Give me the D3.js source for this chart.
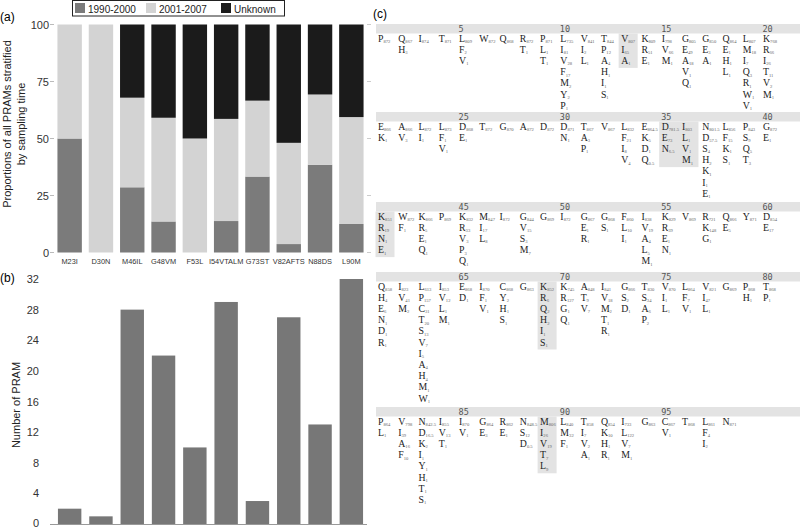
<!DOCTYPE html>
<html>
<head>
<meta charset="utf-8">
<script src="https://cdn.jsdelivr.net/npm/d3@7"></script>
<style>
  body { margin: 0; background: #fff; }
  svg { display: block; }
</style>
</head>
<body>
<div id="fig"></div>
<script>
// PRAM categories shared by panels (a) and (b)
const pramLabels = ["M23I", "D30N", "M46IL", "G48VM", "F53L", "I54VTALM", "G73ST", "V82AFTS", "N88DS", "L90M"];
// (a) proportions (%) by sampling time
const share1990 = [50, 0, 28.6, 13.6, 0, 13.8, 33.3, 3.7, 38.5, 12.5];
const share2001 = [50, 100, 39.3, 45.5, 50, 44.8, 33.3, 44.4, 30.8, 46.9];
const shareUnknown = [0, 0, 32.1, 40.9, 50, 41.4, 33.4, 51.9, 30.7, 40.6];
const periodKeys = ["1990-2000", "2001-2007", "Unknown"];
const periodColors = ["#7b7b7b", "#d3d3d3", "#1b1b1b"];
const propTicks = [0, 25, 50, 75, 100];
// (b) number of PRAM
const pramCounts = [2, 1, 28, 22, 10, 29, 3, 27, 13, 32];
const countTicks = [0, 4, 8, 12, 16, 20, 24, 28, 32];
// (c) residues per protease position: consensus first, then variants (letter + count)
const residues = [
  "P872", "Q867 H3", "I874", "T871", "L809 F2 V1", "W872", "Q868", "R872 T1", "P871 L1 T1", "L735 I81 V28 F17 M2 Y2 P1",
  "V841 I2 L1", "T844 P12 A4 H1 I1 S1", "V807 I65 A1", "K809 R51 E1", "I798 V66 M1", "G805 E49 A18 V1 Q1", "G850 E3 A1", "Q864 E1 H1 L1", "L807 M18 I7 Q3 R1 W1 V1", "K768 R66 I26 T11 V2 M1",
  "E866 K1", "A866 V3", "L872 I1", "L873 F1 V1", "D868 E1", "T872", "G870", "A872", "D872", "D871 N1",
  "T867 A3 P1", "V867", "L832 F21 I8 V4", "E864.5 K5 D1 Q0.5", "D781.5 E73 N6.5", "I803 L1 V1 M1", "N801.5 D57.5 S4 H2 K1 I1 E1", "L856 F15 K1 S1", "P843 S9 Q5 T3", "G872 E1",
  "K851 R19 N1 E1", "W872 F1", "K866 R5 E1 Q1", "P869", "K832 R33 V3 P3 Q1", "M847 I17 L8", "I872", "G844 V15 S3 M7", "G869", "I872",
  "G867 E1 R1", "G868 S1", "F860 L10 I1", "I838 V19 A4 L5 M1", "K829 R39 E1 N1", "V869", "R721 K148 G1", "Q866 E5", "Y871", "D854 E17",
  "Q858 H4 E6 N1 D1 R1", "I823 V41 M2", "L613 P157 C31 T20 S13 V7 I5 A4 H4 M1 W1", "I853 V12 L1 M1", "E868 D1", "I870 F1 V1", "C868 Y2 H1 S1", "G863", "K852 R6 Q2 H2 I1 S1", "K745 R127 G1 Q1",
  "A848 T9 V7", "I841 V18 M2 T1 R1", "G866 S2 D1", "T830 S34 A6 P2", "V870 I1 L1", "L864 F7 V1", "V821 I47 L1", "G869", "P868 H1", "T868 P1",
  "P864 L1", "V798 I39 A16 F10", "N842.5 D16.5 K2 I1 Y1 H1 T1 S1", "I855 V13 T1", "I870 V1", "G864 E3", "R862 E1", "N848.5 S12 D0.5", "M806 I26 V19 T7 L9", "L840 M32 F1",
  "T858 I7 V2 A1", "Q854 K10 H1 R1", "I733 L122 V7 M1", "G863", "C867 V1", "T868", "L861 F4 I2", "N871"
];
const shadedPositions = [13, 35, 36, 41, 69, 89];

const W = 800, H = 530;
const sans = "Liberation Sans, Arial, sans-serif";
const svg = d3.select("#fig").append("svg").attr("width", W).attr("height", H)
  .style("font-family", sans);

// ---------- panel (a) ----------
const x = d3.scaleBand().domain(pramLabels).range([54, 367]).paddingInner(0.22).paddingOuter(0.11);
const yA = d3.scaleLinear().domain([0, 100]).range([252.5, 24.5]);

const rowsA = pramLabels.map((p, i) => ({
  pram: p, "1990-2000": share1990[i], "2001-2007": share2001[i], "Unknown": shareUnknown[i]
}));
const stacked = d3.stack().keys(periodKeys)(rowsA);

const gA = svg.append("g");
gA.selectAll("line.tl").data(propTicks).join("line")
  .attr("x1", 50).attr("x2", 54).attr("y1", d => yA(d)).attr("y2", d => yA(d))
  .attr("stroke", "#bbb");
gA.selectAll("line.tr").data(propTicks).join("line")
  .attr("x1", 367).attr("x2", 371).attr("y1", d => yA(d)).attr("y2", d => yA(d))
  .attr("stroke", "#ccc");
gA.selectAll("g.layer").data(stacked).join("g")
  .attr("fill", (d, i) => periodColors[i])
  .selectAll("rect").data(d => d).join("rect")
  .attr("x", d => x(d.data.pram))
  .attr("width", x.bandwidth())
  .attr("y", d => yA(d[1]))
  .attr("height", d => yA(d[0]) - yA(d[1]));
gA.selectAll("text.yt").data(propTicks).join("text")
  .attr("x", 49).attr("y", d => yA(d) + 4)
  .attr("text-anchor", "end").attr("font-size", 11).attr("fill", "#333")
  .text(d => d);
gA.selectAll("text.xt").data(pramLabels).join("text")
  .attr("x", d => x(d) + x.bandwidth() / 2).attr("y", 264)
  .attr("text-anchor", "middle").attr("font-size", 7.4).attr("fill", "#333")
  .text(d => d);
gA.append("text").attr("transform", "translate(11,124) rotate(-90)")
  .attr("text-anchor", "middle").attr("font-size", 11).attr("fill", "#222")
  .text("Proportions of all PRAMs stratified");
gA.append("text").attr("transform", "translate(25,124) rotate(-90)")
  .attr("text-anchor", "middle").attr("font-size", 11).attr("fill", "#222")
  .text("by sampling time");
svg.append("text").attr("x", 0).attr("y", 21).attr("font-size", 12).text("(a)");

// legend
const leg = svg.append("g");
leg.append("rect").attr("x", 72.5).attr("y", 0.5).attr("width", 212).attr("height", 15.5)
  .attr("fill", "#fff").attr("stroke", "#222");
const legX = [75, 146, 221];
leg.selectAll("rect.sw").data(periodKeys).join("rect")
  .attr("x", (d, i) => legX[i]).attr("y", 3).attr("width", 10).attr("height", 10)
  .attr("fill", (d, i) => periodColors[i]);
leg.selectAll("text").data(periodKeys).join("text")
  .attr("x", (d, i) => legX[i] + 13).attr("y", 12.5)
  .attr("font-size", 10).attr("fill", "#222").text(d => d);

// ---------- panel (b) ----------
const yB = d3.scaleLinear().domain([0, 32]).range([524, 279]);
const gB = svg.append("g");
gB.selectAll("rect").data(pramCounts).join("rect")
  .attr("x", (d, i) => x(pramLabels[i]) + 0.5)
  .attr("width", x.bandwidth() - 1)
  .attr("y", d => yB(d))
  .attr("height", d => yB(0) - yB(d))
  .attr("fill", "#777");
gB.append("line").attr("x1", 50).attr("x2", 367).attr("y1", yB(0) + 0.5).attr("y2", yB(0) + 0.5)
  .attr("stroke", "#999");
gB.selectAll("text.yt").data(countTicks).join("text")
  .attr("x", 39).attr("y", d => Math.min(yB(d) + 4, 527))
  .attr("text-anchor", "end").attr("font-size", 11).attr("fill", "#333")
  .text(d => d);
gB.append("text").attr("transform", "translate(20,405) rotate(-90)")
  .attr("text-anchor", "middle").attr("font-size", 11).attr("fill", "#222")
  .text("Number of PRAM");
svg.append("text").attr("x", 0).attr("y", 282).attr("font-size", 12).text("(b)");

// ---------- panel (c) ----------
svg.append("text").attr("x", 373).attr("y", 18).attr("font-size", 12).text("(c)");
const colX = d3.scaleLinear().domain([0, 19]).range([378, 763]);
const bandTops = [24, 112, 202, 272, 407];
const rowPitch = 11.2;
const gC = svg.append("g");

const blocks = d3.range(5).map(b => residues.slice(b * 20, b * 20 + 20)
  .map((r, j) => ({ pos: b * 20 + j + 1, col: j, items: r.split(" ") })));

blocks.forEach((cols, b) => {
  const top = bandTops[b];
  const rowY = k => top + 17.5 + k * rowPitch;
  gC.append("rect").attr("x", 376).attr("y", top).attr("width", 424).attr("height", 9.5)
    .attr("fill", "#e3e3e3");
  // shaded columns (adjacent ones merged)
  const shaded = cols.filter(c => shadedPositions.includes(c.pos));
  const groups = [];
  shaded.forEach(c => {
    const last = groups[groups.length - 1];
    if (last && last[last.length - 1].pos === c.pos - 1) last.push(c); else groups.push([c]);
  });
  groups.forEach(gr => {
    const n = d3.max(gr, c => c.items.length);
    gC.append("rect")
      .attr("x", colX(gr[0].col) - 2.5)
      .attr("width", colX(gr[gr.length - 1].col) - colX(gr[0].col) + 19)
      .attr("y", top + 9.5)
      .attr("height", rowY(n - 1) - top - 9.5 + 4)
      .attr("fill", "#e3e3e3");
  });
  gC.selectAll(null).data(cols.filter(c => c.pos % 5 === 0)).join("text")
    .attr("x", c => colX(c.col) - 0.5).attr("y", top + 7.5)
    .attr("font-family", "DejaVu Sans Mono, monospace").attr("font-size", 8.5)
    .attr("fill", "#555").text(c => c.pos);
  cols.forEach(c => {
    c.items.forEach((it, k) => {
      const t = gC.append("text").attr("x", colX(c.col)).attr("y", rowY(k))
        .attr("font-family", "Liberation Serif, Times New Roman, serif").attr("font-size", 9.8)
        .attr("fill", "#222");
      t.append("tspan").text(it[0]);
      t.append("tspan").attr("font-size", 4.6).attr("dy", 1.4).attr("fill", "#666").text(it.slice(1));
    });
  });
});
</script>
</body>
</html>
